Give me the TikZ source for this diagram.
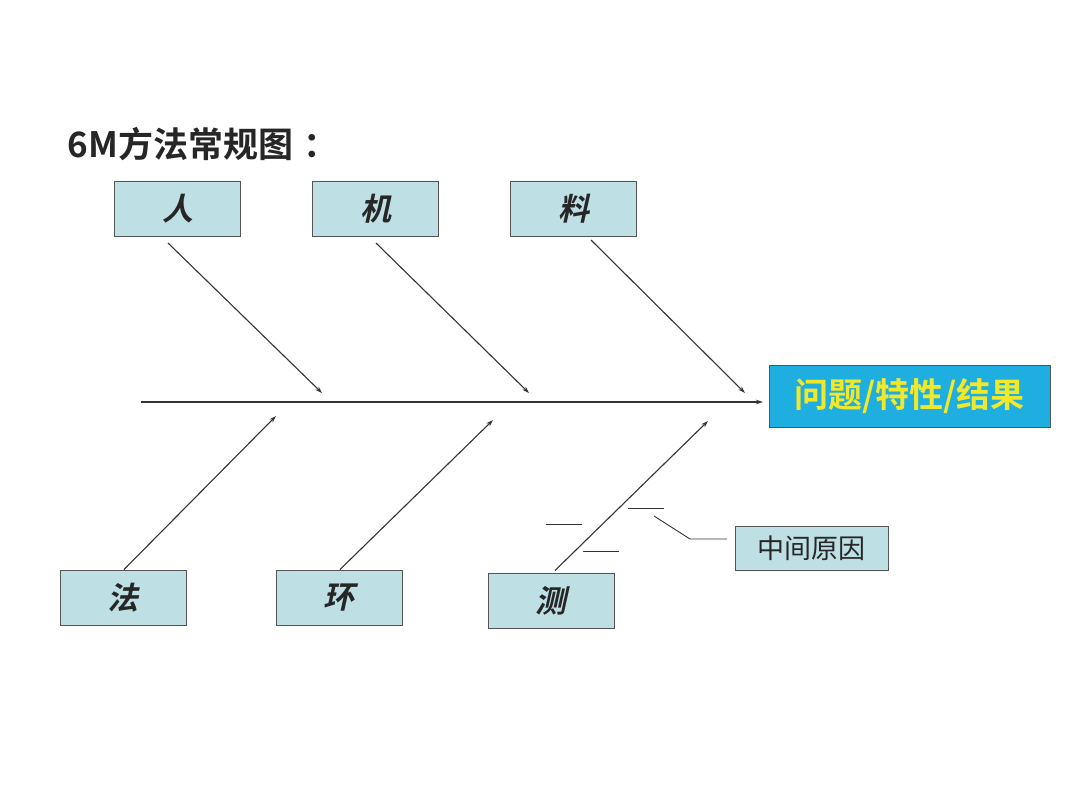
\documentclass[tikz,border=0pt]{standalone}
\usepackage{fontspec}
\newfontfamily\cjk{Noto Sans CJK SC}
\newfontfamily\cjkb{Noto Sans CJK SC Bold}
\newfontfamily\cjkit[FakeSlant=0.22]{Noto Sans CJK SC Bold}
\usetikzlibrary{arrows.meta}
\definecolor{boxfill}{HTML}{BEE0E4}
\definecolor{boxdraw}{HTML}{555555}
\definecolor{resfill}{HTML}{1FAEE0}
\definecolor{restext}{HTML}{F2E82A}
\definecolor{linec}{HTML}{333333}
\begin{document}
\begin{tikzpicture}[x=1pt,y=-1pt,
  catbox/.style={draw=boxdraw,fill=boxfill,line width=1pt,minimum width=126pt,minimum height=55pt,inner sep=0pt,font=\cjkit\fontsize{31}{33}\selectfont,text=black!85},
  bone/.style={draw=linec,line width=1.1pt,-{Stealth[length=7pt,width=4.5pt]}},
  twig/.style={draw=linec,line width=0.9pt}]
\useasboundingbox (0,0) rectangle (1080,796);
\fill[white] (0,0) rectangle (1080,796);
\node[anchor=base west,font=\cjkb\fontsize{35}{40}\selectfont,text=black!85] (title) at (64,157) {6M方法常规图\hspace{10pt}：};
\node[catbox] (ren) at (177.5,208.5) {人};
\node[catbox] (ji) at (375.5,208.5) {机};
\node[catbox] (liao) at (573.5,208.5) {料};
\node[catbox] (fa) at (123,597.5) {法};
\node[catbox] (huan) at (339,597.5) {环};
\node[catbox] (ce) at (551,600.5) {测};
\node[draw=boxdraw,fill=resfill,line width=1pt,minimum width=281pt,minimum height=62pt,inner sep=0pt,font=\cjkb\fontsize{34}{36}\selectfont,text=restext] (res) at (909.5,396) {问题/特性/结果};
\node[draw=boxdraw,fill=boxfill,line width=1pt,minimum width=153pt,minimum height=44pt,inner sep=0pt,font=\cjk\fontsize{27}{29}\selectfont,text=black!85] (mid) at (811.5,548) {中间原因};
% spine
\coordinate (tail) at (141,402);
\coordinate (head) at (763,402);
\draw[bone] (tail) -- (head);
% top bones
\coordinate (renS) at (168,243); \coordinate (renE) at (322,393);
\coordinate (jiS) at (376,243); \coordinate (jiE) at (529,393);
\coordinate (liaoS) at (591,240); \coordinate (liaoE) at (745,393);
\draw[bone] (renS) -- (renE);
\draw[bone] (jiS) -- (jiE);
\draw[bone] (liaoS) -- (liaoE);
% bottom bones
\coordinate (faE) at (276,416); \coordinate (huanE) at (493,420); \coordinate (ceE) at (708,421);
\draw[bone] (fa.north) ++(1,0) -- (faE);
\draw[bone] (huan.north) ++(1,0) -- (huanE);
\draw[bone] (ce.north) ++(4,-2) -- (ceE);
% twigs
\coordinate (t1a) at (546,524); \coordinate (t1b) at (582,524);
\coordinate (t2a) at (583,551); \coordinate (t2b) at (619,551);
\coordinate (t3a) at (628,508); \coordinate (t3b) at (664,508);
\draw[twig] (t1a) -- (t1b);
\draw[twig] (t2a) -- (t2b);
\draw[twig] (t3a) -- (t3b);
\coordinate (lead) at (654,516);
\coordinate (bend) at (690,539);
\coordinate (leadE) at (727,539);
\draw[twig] (lead) -- (bend) -- (leadE);
\end{tikzpicture}
\end{document}
